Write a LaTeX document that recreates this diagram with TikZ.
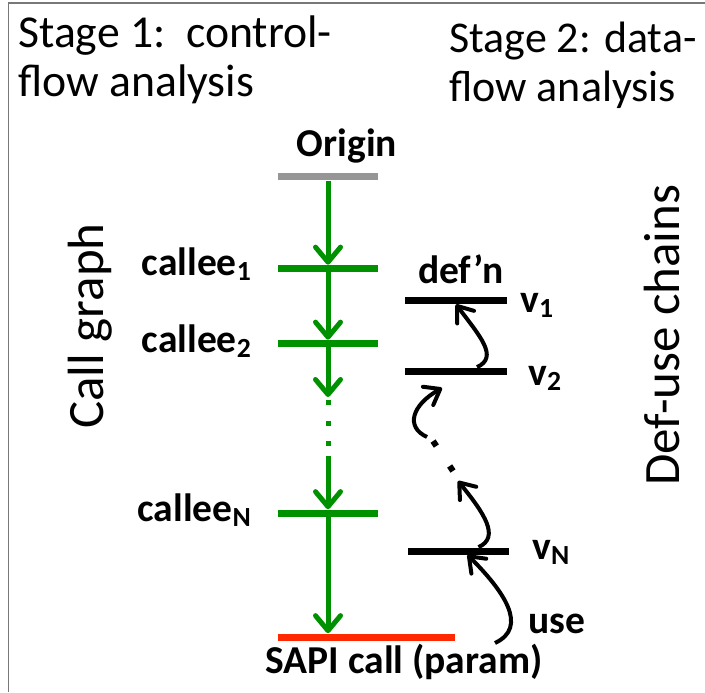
\documentclass[tikz,border=0pt]{standalone}
\usepackage{fontspec}
\setmainfont{Carlito}
\usetikzlibrary{arrows.meta}
\definecolor{flowgreen}{RGB}{0,145,0}
\definecolor{sapired}{RGB}{255,40,0}
\definecolor{origingray}{RGB}{150,150,150}
\definecolor{framegray}{RGB}{120,120,120}

\begin{document}
\begin{tikzpicture}[x=0.02cm, y=-0.02cm,
  title/.style={font=\fontsize{26}{30}\selectfont, inner sep=0, anchor=base west},
  side/.style={font=\fontsize{29}{32}\selectfont, inner sep=0, rotate=90},
  lbl/.style={font=\fontsize{22.5}{25}\selectfont\bfseries, inner sep=0},
  bar/.style={inner sep=0, minimum height=0.14cm, minimum width=2cm},
  flow/.style={flowgreen, line width=0.1cm, -{Straight Barb[length=0.3cm, width=0.5cm, round]}},
  chain/.style={line width=0.08cm, -{Straight Barb[length=0.28cm, width=0.42cm, round]}}]
\useasboundingbox (0,0) rectangle (705,692);
\draw[framegray, line width=0.04cm] (8.5,692) -- (8.5,3) -- (705,3);

% headings
\node[title] (st1a) at (18,48) {Stage 1:~~control-};
\node[title] (st1b) at (18,97) {flow analysis};
\node[title, font=\fontsize{25}{30}\selectfont] (st2a) at (449,53) {Stage 2: data-};
\node[title, font=\fontsize{25}{30}\selectfont] (st2b) at (449,102) {flow analysis};
\node[side] (cg) at (90,326) {Call graph};
\node[side] (du) at (662,335) {Def-use chains};

% stage 1: call graph
\node[lbl, anchor=base] (origin) at (347,157) {Origin};
\node[bar, fill=origingray] (obar) at (328,177) {};
\node[bar, fill=flowgreen] (c1) at (328,268.5) {};
\node[bar, fill=flowgreen] (c2) at (328,343.5) {};
\node[bar, fill=flowgreen] (cN) at (328,513) {};
\node[bar, fill=sapired, minimum width=3.54cm] (sapibar) at (366.5,637) {};
\node[lbl, anchor=base east] (l1) at (252,275) {callee\textsubscript{1}};
\node[lbl, anchor=base east] (l2) at (252,352) {callee\textsubscript{2}};
\node[lbl, anchor=base east] (lN) at (252,521) {callee\textsubscript{N}};
\node[lbl, anchor=base] (sapi) at (404,673) {SAPI call (param)};

\coordinate (g1) at (328,397);
\coordinate (g2) at (328,400);
\coordinate (g3) at (328,446);
\coordinate (g4) at (328,456);
\draw[flow] (obar.south) -- (c1.north);
\draw[flow] (c1.south) -- (c2.north);
\draw[flow] (c2.south) -- (g1);
\draw[flowgreen, line width=0.1cm, dash pattern=on 0.1cm off 0.31cm] (g2) -- (g3);
\draw[flow] (g4) -- (cN.north);
\draw[flow] (cN.south) -- (cN.south |- sapibar.north);

% stage 2: def-use chain
\node[bar, fill=black, minimum width=2.04cm] (v1bar) at (456,300.5) {};
\node[bar, fill=black, minimum width=2.04cm] (v2bar) at (456,371) {};
\node[bar, fill=black, minimum width=2.02cm] (vNbar) at (458.5,551) {};
\node[lbl, anchor=base] (defn) at (461,283) {def’n};
\node[lbl, anchor=base west] (v1) at (520,312) {v\textsubscript{1}};
\node[lbl, anchor=base west] (v2) at (528,385) {v\textsubscript{2}};
\node[lbl, anchor=base west] (vN) at (532,559) {v\textsubscript{N}};
\node[lbl, anchor=base west] (use) at (528,633) {use};

\coordinate (useTail) at (495,643);
\coordinate (dotLow) at (458,481);
\coordinate (dotA) at (453,471);
\coordinate (dotB) at (433,441);
\coordinate (upTail) at (427,437);
\coordinate (upTip) at (442,388);
\draw[chain] (useTail) .. controls +(34,-16) and +(36,36) .. ([xshift=0.18cm]vNbar.south);
\draw[chain] ([xshift=0.4cm]vNbar.north) .. controls +(22,-10) and +(26,32) .. (dotLow);
\draw[line width=0.12cm, dash pattern=on 0.12cm off 0.48cm] (dotA) -- (dotB);
\draw[chain] (upTail) .. controls +(-22,-10) and +(-30,17) .. (upTip);
\draw[chain] ([xshift=0.42cm]v2bar.north) .. controls +(22,-10) and +(24,32) .. (v1bar.south);
\end{tikzpicture}
\end{document}
